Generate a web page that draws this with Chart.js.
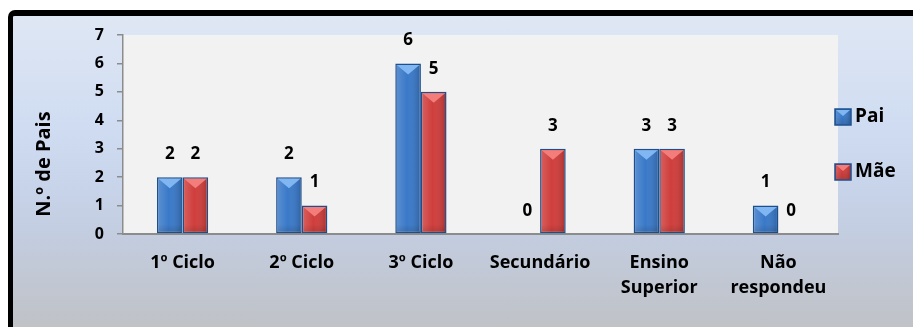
<!DOCTYPE html>
<html>
<head>
<meta charset="utf-8">
<script src="https://cdn.jsdelivr.net/npm/chart.js@4.4.1/dist/chart.umd.min.js"></script>
<style>
  html, body { margin: 0; padding: 0; background: #fff; }
  body { width: 913px; height: 327px; position: relative; overflow: hidden; }
  .frame {
    position: absolute; left: 8px; top: 10px; width: 930px; height: 340px;
    border-left: 5px solid #000; border-top: 6px solid #000;
    border-top-left-radius: 7px;
    background: linear-gradient(to bottom, #dfe7f4 0%, #cedbf1 35%, #c4cfe4 60%, #bebebe 100%);
  }
  canvas { position: absolute; left: 0; top: 0; }
</style>
</head>
<body>
<div class="frame"></div>
<canvas id="chart" width="913" height="327"></canvas>
<script>
const categories = ['1º Ciclo', '2º Ciclo', '3º Ciclo', 'Secundário', ['Ensino', 'Superior'], ['Não', 'respondeu']];
const paiValues = [2, 2, 6, 0, 3, 1];
const maeValues = [2, 1, 5, 3, 3, 0];
const yTicks = [0, 1, 2, 3, 4, 5, 6, 7];

const FONT = '"Open Sans", Lato, sans-serif';
const BORDER = '#1d4f8c';

// shading + top bevel on each bar, like an embossed column
function paintBar(ctx, l, t, r, b, cx, bevelColor) {
  const g = ctx.createLinearGradient(l, 0, r, 0);
  g.addColorStop(0, 'rgba(255,255,255,0.16)');
  g.addColorStop(0.45, 'rgba(255,255,255,0)');
  g.addColorStop(1, 'rgba(0,0,0,0.16)');
  ctx.fillStyle = g;
  ctx.fillRect(l, t, r - l, b - t);
  const d = Math.min((r - l) * 0.42, (b - t) / 2);
  ctx.beginPath();
  ctx.moveTo(l, t);
  ctx.lineTo(r, t);
  ctx.lineTo(cx, t + d);
  ctx.closePath();
  ctx.fillStyle = bevelColor;
  ctx.fill();
  const gb = ctx.createLinearGradient(0, b - 8, 0, b);
  gb.addColorStop(0, 'rgba(0,0,0,0)');
  gb.addColorStop(1, 'rgba(0,0,0,0.12)');
  ctx.fillStyle = gb;
  ctx.fillRect(l, Math.max(t, b - 8), r - l, Math.min(8, b - t));
}

const bevel = {
  id: 'bevel',
  afterDatasetsDraw(chart) {
    const ctx = chart.ctx;
    ctx.save();
    chart.data.datasets.forEach((ds, i) => {
      chart.getDatasetMeta(i).data.forEach((bar, j) => {
        if (!ds.data[j]) return;
        const { x, y, base, width } = bar.getProps(['x', 'y', 'base', 'width'], true);
        const l = x - width / 2 + 1.5, r = x + width / 2 - 1.5;
        paintBar(ctx, l, y + 1.5, r, base - 1, x, ds.bevelColor);
      });
    });
    ctx.restore();
  }
};

// value above each bar
const valueLabels = {
  id: 'valueLabels',
  afterDatasetsDraw(chart) {
    const ctx = chart.ctx;
    ctx.save();
    ctx.font = 'bold 17px ' + FONT;
    ctx.fillStyle = '#000';
    ctx.textAlign = 'center';
    ctx.textBaseline = 'middle';
    chart.data.datasets.forEach((ds, i) => {
      chart.getDatasetMeta(i).data.forEach((bar, j) => {
        ctx.fillText(String(ds.data[j]), bar.x, bar.y - 23);
      });
    });
    ctx.restore();
  }
};

// legend on the right and the rotated axis title
const extras = {
  id: 'extras',
  afterDraw(chart) {
    const ctx = chart.ctx;
    ctx.save();
    chart.data.datasets.forEach((ds, i) => {
      const cy = 117 + i * 55;
      const l = 835, t = cy - 8, s = 16;
      ctx.fillStyle = ds.backgroundColor;
      ctx.fillRect(l, t, s, s);
      paintBar(ctx, l + 1, t + 1, l + s - 1, t + s - 1, l + s / 2, ds.bevelColor);
      ctx.strokeStyle = BORDER;
      ctx.lineWidth = 1.5;
      ctx.strokeRect(l, t, s, s);
      ctx.font = 'bold 19px ' + FONT;
      ctx.fillStyle = '#000';
      ctx.textAlign = 'left';
      ctx.textBaseline = 'middle';
      ctx.fillText(ds.label, 855, cy);
    });
    ctx.translate(44, 164);
    ctx.rotate(-Math.PI / 2);
    ctx.font = 'bold 20px ' + FONT;
    ctx.fillStyle = '#000';
    ctx.textAlign = 'center';
    ctx.textBaseline = 'middle';
    ctx.fillText('N.º de Pais', 0, 0);
    ctx.restore();
  }
};

new Chart(document.getElementById('chart'), {
  type: 'bar',
  data: {
    labels: categories,
    datasets: [
      {
        label: 'Pai',
        data: paiValues,
        backgroundColor: '#3a79c8',
        bevelColor: '#80b6f2',
        borderColor: BORDER,
        borderWidth: ctx => (ctx.raw ? 1.5 : 0),
        borderSkipped: false
      },
      {
        label: 'Mãe',
        data: maeValues,
        backgroundColor: '#cf3e3c',
        bevelColor: '#f27d7a',
        borderColor: BORDER,
        borderWidth: ctx => (ctx.raw ? 1.5 : 0),
        borderSkipped: false
      }
    ]
  },
  options: {
    responsive: false,
    animation: false,
    events: [],
    layout: { padding: { left: 0, right: 75, top: 35, bottom: 0 } },
    datasets: { bar: { categoryPercentage: 0.43, barPercentage: 1 } },
    plugins: { legend: { display: false }, tooltip: { enabled: false } },
    scales: {
      x: {
        afterFit(scale) { scale.height = 93; },
        grid: { display: false, drawTicks: false },
        border: { display: true, color: '#8c8c8c', width: 2 },
        ticks: {
          color: '#000',
          padding: 16,
          maxRotation: 0,
          autoSkip: false,
          font: { family: FONT, size: 18, weight: 'bold', lineHeight: 1.39 }
        }
      },
      y: {
        min: yTicks[0],
        max: yTicks[yTicks.length - 1],
        afterFit(scale) { scale.width = 123; },
        afterBuildTicks(scale) { scale.ticks = yTicks.map(v => ({ value: v })); },
        grid: { drawOnChartArea: false, drawTicks: true, tickLength: 6, color: '#8c8c8c', lineWidth: 1.5 },
        border: { display: true, color: '#8c8c8c', width: 1.5 },
        ticks: {
          color: '#000',
          padding: 13,
          font: { family: FONT, size: 16, weight: 'bold' }
        }
      }
    }
  },
  plugins: [
    {
      id: 'plotBg',
      beforeDraw(chart) {
        const { left, top, width, height } = chart.chartArea;
        chart.ctx.save();
        chart.ctx.fillStyle = '#f2f2f2';
        chart.ctx.fillRect(left, top, width, height);
        chart.ctx.restore();
      }
    },
    bevel, valueLabels, extras
  ]
});
</script>
</body>
</html>
